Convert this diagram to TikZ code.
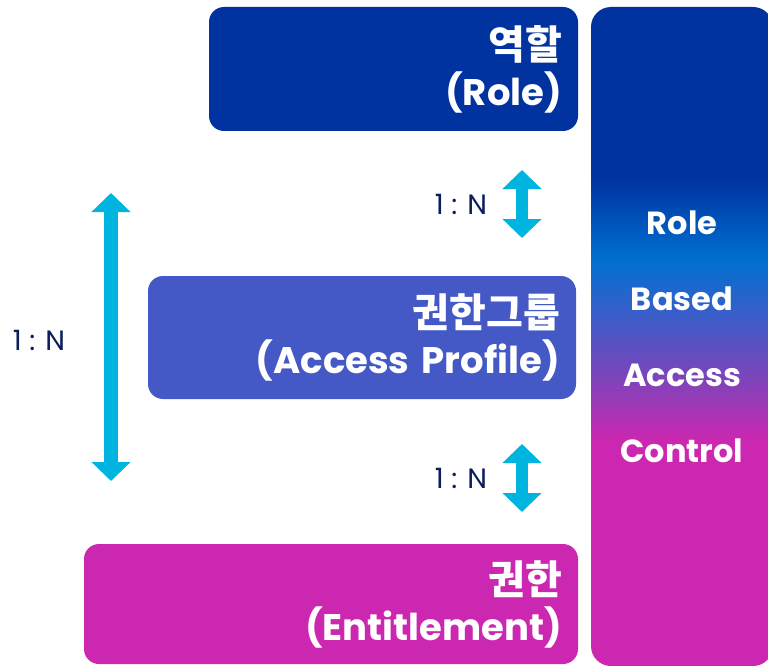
\documentclass[tikz,border=0pt]{standalone}
\usepackage{fontspec}
\setmainfont{Poppins}
\newfontfamily\kr{Noto Sans CJK KR}
\usetikzlibrary{arrows.meta}

\definecolor{roleblue}{HTML}{0033A0}
\definecolor{groupblue}{HTML}{4459C6}
\definecolor{entpink}{HTML}{CC27B0}
\definecolor{linkcyan}{HTML}{00B4E0}
\definecolor{ratiotext}{HTML}{0B1E5B}
\definecolor{barsky}{HTML}{0070D0}
\definecolor{barmid}{HTML}{3F5CC8}
\definecolor{barpurple}{HTML}{8043BA}
\pgfdeclareverticalshading{rbacfade}{100bp}{color(0bp)=(entpink); color(42bp)=(entpink); color(46.7bp)=(barpurple); color(51.3bp)=(barmid); color(55.8bp)=(barsky); color(62bp)=(roleblue); color(100bp)=(roleblue)}

\begin{document}
\begin{tikzpicture}[x=1pt,y=-1pt]
	\tikzstyle{box}=[rectangle,rounded corners=15pt,text=white,align=right,inner xsep=16pt,font=\bfseries\fontsize{37}{46}\selectfont]
	\tikzstyle{ratio}=[text=ratiotext,font=\fontsize{28}{32}\selectfont]
	\tikzstyle{link}=[draw=linkcyan,line width=12pt,{Triangle[width=38pt,length=19pt]}-{Triangle[width=38pt,length=19pt]}]

	\path[use as bounding box,fill=white] (0,0) rectangle (768,666);

	 \node [box,fill=roleblue,minimum width=369pt,minimum height=124pt,text width=337pt] (role) at (393.5,69) {{\kr\fontsize{40}{46}\selectfont 역할}\\(Role)};
	 \node [box,fill=groupblue,minimum width=428pt,minimum height=123pt,text width=396pt] (group) at (362,337.5) {{\kr\fontsize{40}{46}\selectfont 권한그룹}\\(Access Profile)};
	 \node [box,fill=entpink,minimum width=494pt,minimum height=120pt,text width=462pt] (ent) at (331,604) {{\kr\fontsize{40}{46}\selectfont 권한}\\(Entitlement)};
	 \node [box,shade,shading=rbacfade,rounded corners=20pt,align=center,minimum width=176pt,minimum height=659pt,text width=150pt,font=\bfseries\fontsize{32}{76}\selectfont] (rbac) at (682,336.5) {Role\\Based\\Access\\Control};

	 \coordinate (upTop) at (522,170);
	 \coordinate (upBot) at (522,238);
	 \coordinate (dnTop) at (522,444);
	 \coordinate (dnBot) at (522,512);
	 \coordinate (longTop) at (111,193);
	 \coordinate (longBot) at (111,481);

	 \path[link] (upTop) -- (upBot);
	 \path[link] (dnTop) -- (dnBot);
	 \path[link,line width=14pt] (longTop) -- (longBot);

	 \node [ratio] (upRatio) at (461,204) {1 : N};
	 \node [ratio] (dnRatio) at (461,478) {1 : N};
	 \node [ratio] (longRatio) at (39,340) {1 : N};

\end{tikzpicture}
\end{document}
